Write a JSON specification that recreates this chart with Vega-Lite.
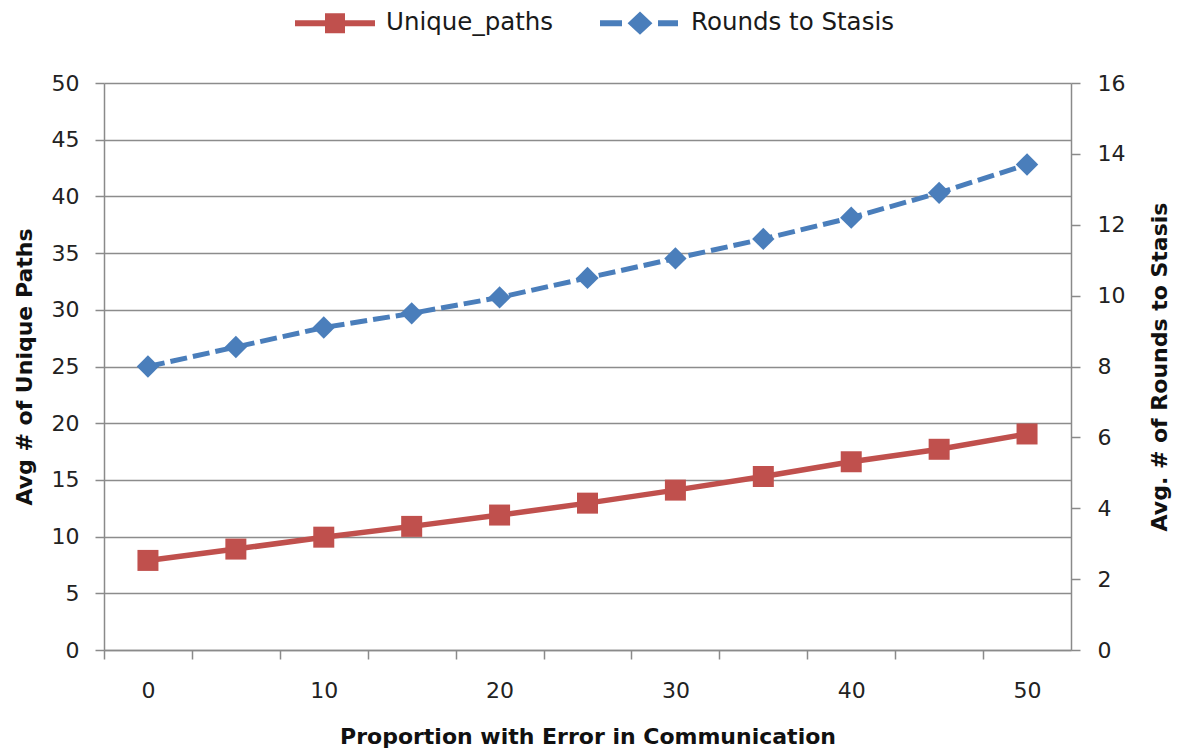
{
  "$schema": "https://vega.github.io/schema/vega-lite/v6.json",
  "width": 967,
  "height": 567,
  "autosize": {"type": "none"},
  "padding": {"left": 104, "top": 83, "right": 108, "bottom": 101},
  "background": "white",
  "config": {
    "view": {"stroke": null},
    "font": "DejaVu Sans",
    "axis": {
      "domainColor": "#8a8a8a",
      "domainWidth": 1.5,
      "tickColor": "#8a8a8a",
      "tickWidth": 1.5,
      "tickSize": 9,
      "gridColor": "#8c8c8c",
      "gridWidth": 1.5,
      "labelFont": "DejaVu Sans",
      "labelFontSize": 22,
      "labelColor": "#222222",
      "titleFont": "DejaVu Sans",
      "titleFontSize": 22,
      "titleFontWeight": "bold",
      "titleColor": "#111111"
    }
  },
  "data": {
    "values": [
      {"x": 0, "unique_paths": 7.9, "rounds": 8.0},
      {"x": 5, "unique_paths": 8.9, "rounds": 8.55},
      {"x": 10, "unique_paths": 9.95, "rounds": 9.1},
      {"x": 15, "unique_paths": 10.9, "rounds": 9.5},
      {"x": 20, "unique_paths": 11.9, "rounds": 9.95},
      {"x": 25, "unique_paths": 12.95, "rounds": 10.5},
      {"x": 30, "unique_paths": 14.1, "rounds": 11.05},
      {"x": 35, "unique_paths": 15.3, "rounds": 11.6},
      {"x": 40, "unique_paths": 16.6, "rounds": 12.2},
      {"x": 45, "unique_paths": 17.7, "rounds": 12.9},
      {"x": 50, "unique_paths": 19.05, "rounds": 13.7}
    ]
  },
  "encoding": {
    "x": {
      "field": "x",
      "type": "ordinal",
      "scale": {"type": "point", "padding": 0.5, "domain": [0, 5, 10, 15, 20, 25, 30, 35, 40, 45, 50]},
      "axis": {
        "title": "Proportion with Error in Communication",
        "labelAngle": 0,
        "labelExpr": "datum.value % 10 === 0 ? datum.label : ''",
        "tickOffset": -43.95,
        "labelOffset": 43.95,
        "labelPadding": 21,
        "titlePadding": 25,
        "grid": false
      }
    }
  },
  "layer": [
    {
      "encoding": {
        "y": {
          "field": "unique_paths",
          "type": "quantitative",
          "scale": {"domain": [0, 50]},
          "axis": {
            "orient": "left",
            "title": "Avg # of Unique Paths",
            "values": [0, 5, 10, 15, 20, 25, 30, 35, 40, 45, 50],
            "grid": true,
            "labelPadding": 16,
            "titlePadding": 15
          }
        },
        "color": {
          "datum": "Unique_paths",
          "type": "nominal",
          "scale": {"domain": ["Unique_paths", "Rounds to Stasis"], "range": ["#C0504D", "#4A7EBB"]},
          "legend": {
            "title": null,
            "orient": "none",
            "direction": "horizontal",
            "legendX": 191,
            "legendY": -100,
            "padding": 0,
            "symbolSize": 6400,
            "labelOffset": 11,
            "columnPadding": 46,
            "labelFont": "DejaVu Sans",
            "labelFontSize": 24.5,
            "labelColor": "#1a1a1a",
            "labelLimit": 400,
            "encode": {
              "symbols": {
                "update": {
                  "shape": {"signal": "datum.value === 'Unique_paths' ? 'M-1,-0.075H1V0.075H-1Z M-0.25,-0.25H0.25V0.25H-0.25Z' : 'M-1,-0.075H-0.45V0.075H-1Z M0.45,-0.075H0.95V0.075H0.45Z M0,-0.29L0.31,0L0,0.29L-0.31,0Z'"},
                  "fill": {"scale": "color", "field": "value"},
                  "stroke": {"value": "transparent"},
                  "strokeWidth": {"value": 0},
                  "opacity": {"value": 1}
                }
              }
            }
          }
        }
      },
      "layer": [
        {"mark": {"type": "line", "strokeWidth": 5.5}},
        {"mark": {"type": "point", "shape": "square", "filled": true, "size": 441, "opacity": 1, "strokeWidth": 0}}
      ]
    },
    {
      "encoding": {
        "y": {
          "field": "rounds",
          "type": "quantitative",
          "scale": {"domain": [0, 16]},
          "axis": {
            "orient": "right",
            "title": "Avg. # of Rounds to Stasis",
            "values": [0, 2, 4, 6, 8, 10, 12, 14, 16],
            "grid": false,
            "labelPadding": 17,
            "titlePadding": 25,
            "titleAngle": 270,
            "titleBaseline": "top"
          }
        },
        "color": {"datum": "Rounds to Stasis", "type": "nominal"}
      },
      "layer": [
        {"mark": {"type": "line", "strokeWidth": 5, "strokeDash": [17, 6]}},
        {"mark": {"type": "point", "shape": "diamond", "filled": true, "size": 500, "opacity": 1, "strokeWidth": 0}}
      ]
    }
  ],
  "resolve": {"scale": {"y": "independent"}}
}
